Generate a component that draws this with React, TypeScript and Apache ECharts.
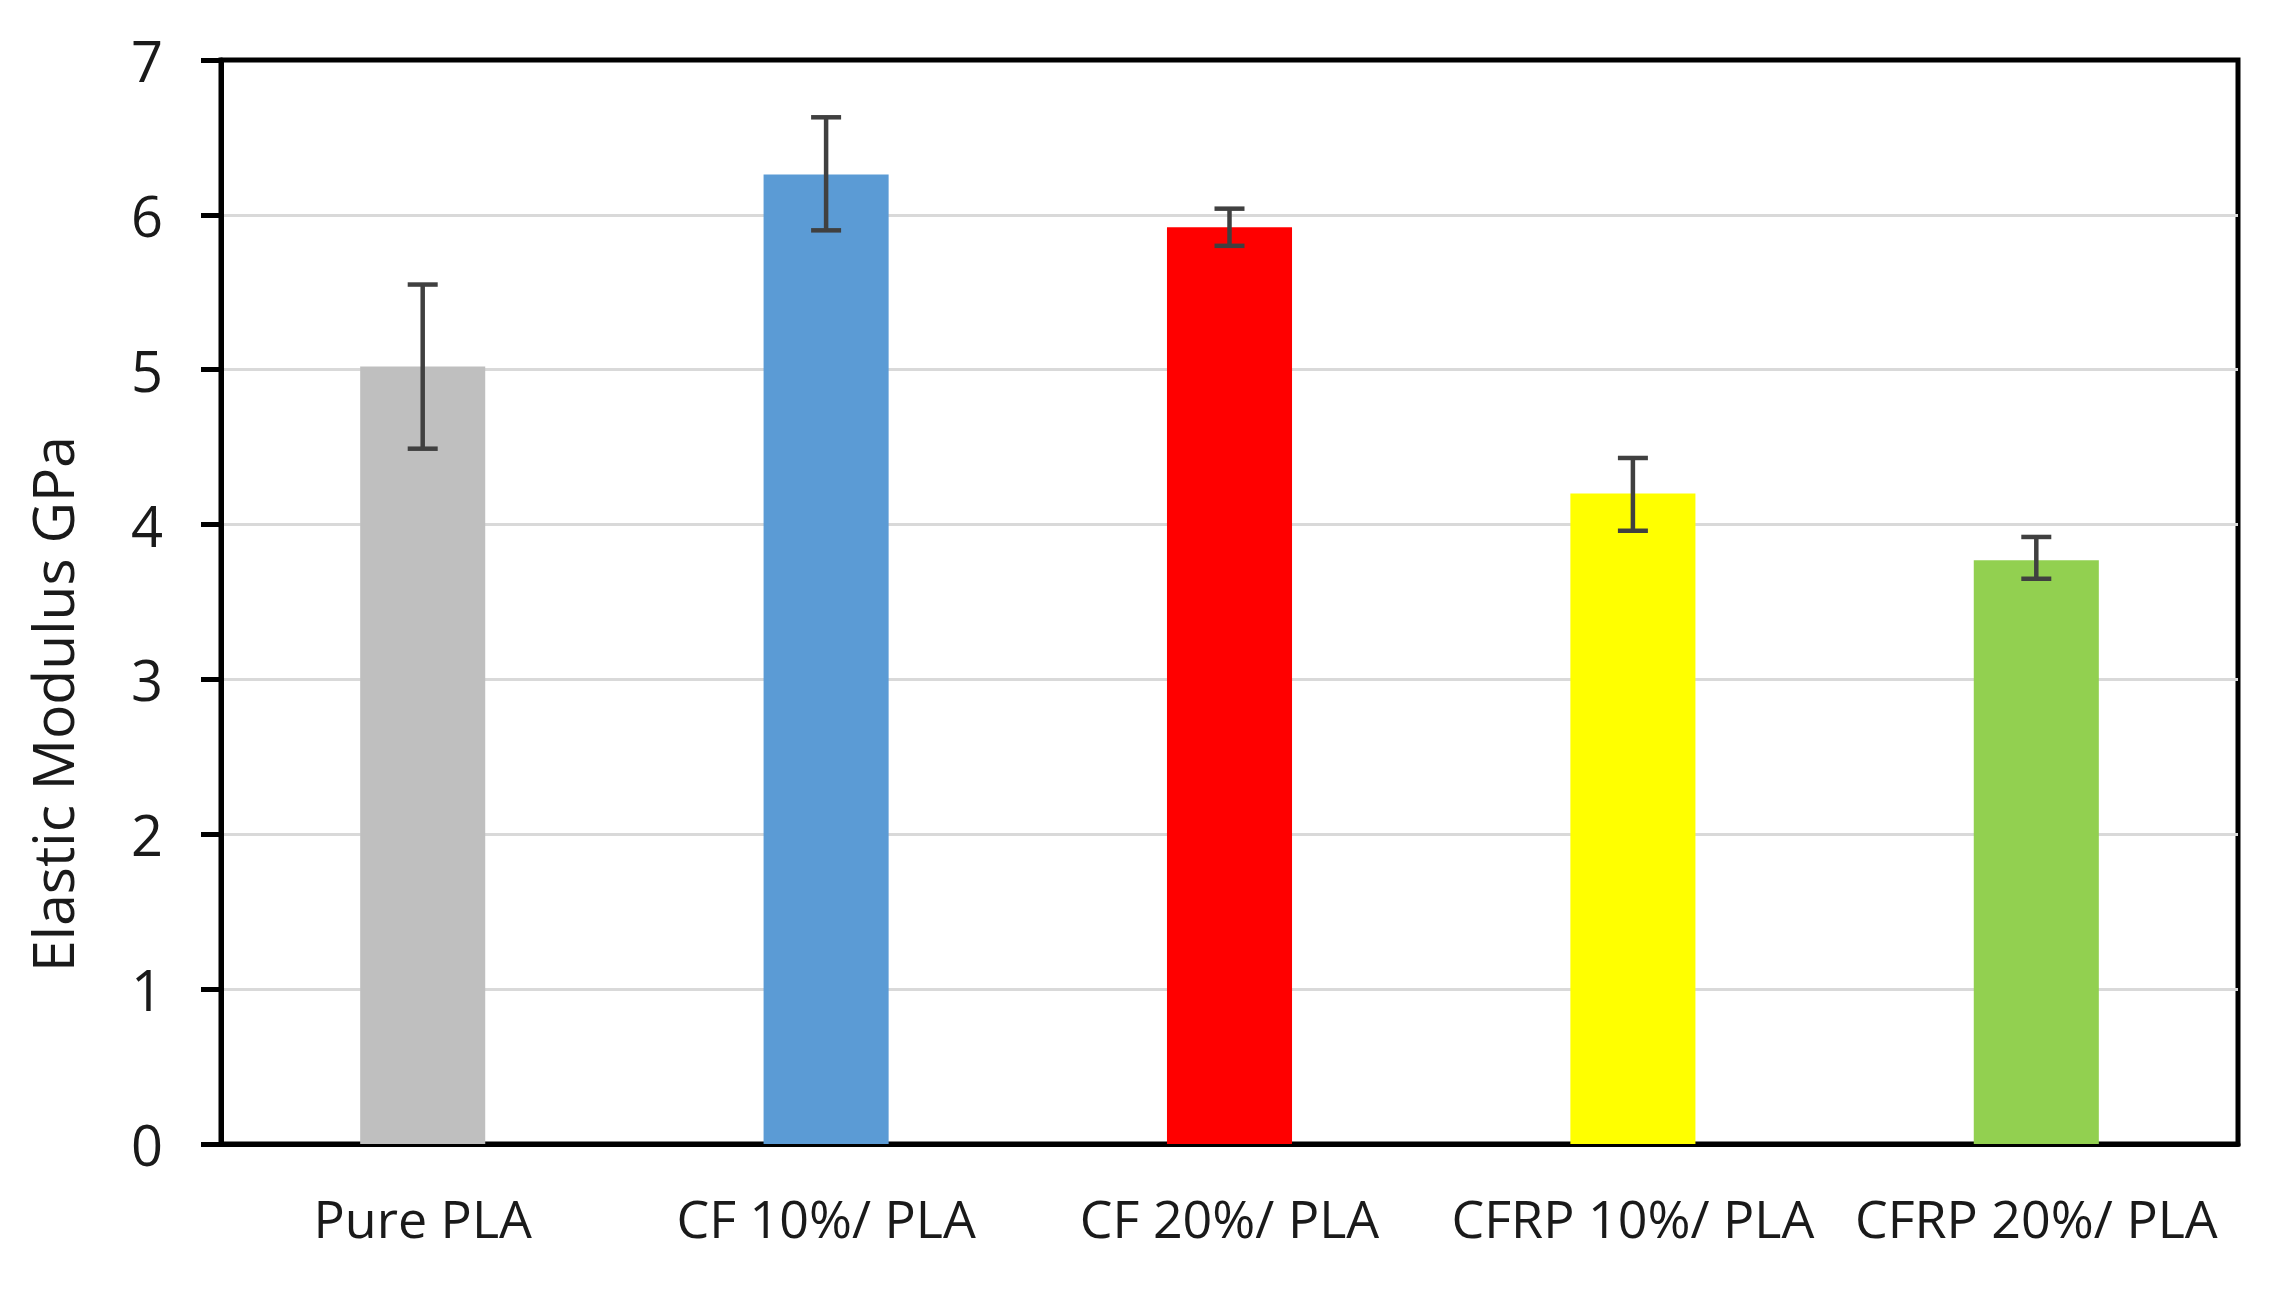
import React, { useEffect, useRef } from "react";
import * as echarts from "echarts";

const categories = ["Pure PLA", "CF 10%/ PLA", "CF 20%/ PLA", "CFRP 10%/ PLA", "CFRP 20%/ PLA"];
const modulus = [5.02, 6.26, 5.92, 4.2, 3.77];
const errLow = [4.49, 5.9, 5.8, 3.96, 3.65];
const errHigh = [5.55, 6.63, 6.04, 4.43, 3.92];
const barColors = ["#bfbfbf", "#5b9bd5", "#ff0000", "#ffff00", "#92d050"];
const yTicks = [0, 1, 2, 3, 4, 5, 6, 7];

const FONT = "'Open Sans', 'Noto Sans', sans-serif";

export default function App() {
  const ref = useRef<HTMLDivElement>(null);
  useEffect(() => {
    if (!ref.current) return;
    const chart = echarts.init(ref.current, undefined, { renderer: "svg" });
    const errStyle = { stroke: "#404040", lineWidth: 4.5 };
    chart.setOption({
      animation: false,
      backgroundColor: "#ffffff",
      grid: {
        left: 221,
        right: 44,
        top: 60,
        bottom: 151,
        show: true,
        borderColor: "#000000",
        borderWidth: 5,
        backgroundColor: "transparent",
      },
      xAxis: {
        type: "category",
        data: categories,
        axisLine: { show: true, lineStyle: { color: "#000000", width: 5 } },
        axisTick: { show: false },
        axisLabel: {
          color: "#1a1a1a",
          fontFamily: FONT,
          fontSize: 52,
          margin: 47,
          interval: 0,
        },
      },
      yAxis: {
        type: "value",
        min: yTicks[0],
        max: yTicks[yTicks.length - 1],
        interval: 1,
        name: "Elastic Modulus GPa",
        nameLocation: "middle",
        nameGap: 141,
        nameRotate: 90,
        nameTextStyle: {
          color: "#1a1a1a",
          fontFamily: FONT,
          fontSize: 57,
          padding: [0, 204, 0, 0],
        },
        axisLine: { show: true, lineStyle: { color: "#000000", width: 5 } },
        axisTick: { show: true, length: 20, lineStyle: { color: "#000000", width: 5 } },
        axisLabel: { color: "#1a1a1a", fontFamily: FONT, fontSize: 56, margin: 58 },
        splitLine: {
          show: true,
          showMinLine: false,
          showMaxLine: false,
          lineStyle: { color: "#d9d9d9", width: 3 },
        },
      },
      series: [
        {
          type: "bar",
          barWidth: "31%",
          data: modulus.map((v, i) => ({ value: v, itemStyle: { color: barColors[i] } })),
          z: 2,
        },
        {
          type: "custom",
          z: 3,
          data: categories.map((_, i) => [i, errLow[i], errHigh[i]]),
          renderItem: (params: any, api: any) => {
            const x = api.value(0);
            const pHi = api.coord([x, api.value(2)]);
            const pLo = api.coord([x, api.value(1)]);
            const hw = 15;
            return {
              type: "group",
              children: [
                { type: "line", shape: { x1: pHi[0], y1: pHi[1], x2: pLo[0], y2: pLo[1] }, style: errStyle },
                { type: "line", shape: { x1: pHi[0] - hw, y1: pHi[1], x2: pHi[0] + hw, y2: pHi[1] }, style: errStyle },
                { type: "line", shape: { x1: pLo[0] - hw, y1: pLo[1], x2: pLo[0] + hw, y2: pLo[1] }, style: errStyle },
              ],
            };
          },
        },
      ],
    });
    return () => chart.dispose();
  }, []);
  return (
    <div
      ref={ref}
      style={{ position: "absolute", left: 0, top: 0, width: 2282, height: 1295, background: "#fff" }}
    />
  );
}
